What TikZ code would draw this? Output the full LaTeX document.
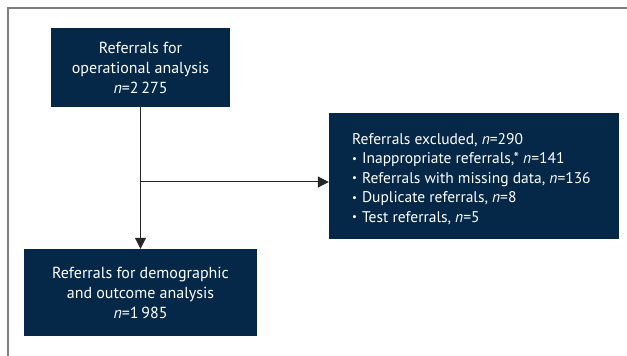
\documentclass[tikz,border=0pt]{standalone}
\usepackage{fontspec}
\setmainfont{PT Sans}
\usetikzlibrary{arrows.meta}
\definecolor{navy}{RGB}{5,40,73}
\definecolor{framegrey}{RGB}{125,125,125}
\newcommand{\smallbul}{\raisebox{1.5pt}{\scalebox{0.7}{\textbullet}}\hspace{5pt}}
\tikzset{
  boxstyle/.style={fill=navy, text=white, align=center, inner sep=0pt, font=\fontsize{16}{20}\selectfont},
  conn/.style={draw=black!85, line width=1pt, -{Triangle[length=11pt,width=11pt]}},
}
\begin{document}
\begin{tikzpicture}[x=1pt,y=1pt]
\useasboundingbox (0,0) rectangle (627,356);
\draw[framegrey, line width=1.5pt] (8,0) -- (8,348) -- (627,348);
\node[boxstyle, minimum width=179pt, minimum height=79pt] (ops) at (140.5,288.5)
  {Referrals for\\operational analysis\\\textit{n}=2\,275};
\node[boxstyle, minimum width=233pt, minimum height=87pt] (demo) at (140.5,63.5)
  {Referrals for demographic\\and outcome analysis\\\textit{n}=1\,985};
\node[fill=navy, minimum width=290pt, minimum height=126pt, inner sep=0pt] (excl) at (474,180) {};
\node[text=white, align=left, anchor=north west, inner sep=0pt, font=\fontsize{15.5}{19.5}\selectfont] (excltxt) at (352,223)
  {Referrals excluded, \textit{n}=290\\
   \smallbul Inappropriate referrals,* \textit{n}=141\\
   \smallbul Referrals with missing data, \textit{n}=136\\
   \smallbul Duplicate referrals, \textit{n}=8\\
   \smallbul Test referrals, \textit{n}=5};
\draw[conn] (ops.south) -- (demo.north);
\coordinate (branch) at (ops.south |- 0,174);
\draw[conn] (branch) -- (branch -| excl.west);
\end{tikzpicture}
\end{document}
